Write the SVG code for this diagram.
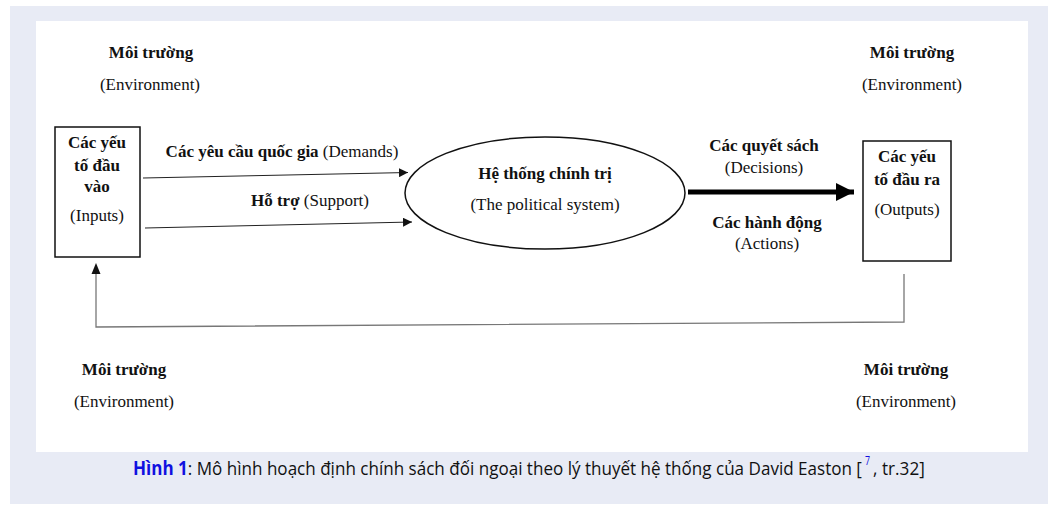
<svg xmlns="http://www.w3.org/2000/svg" width="1058" height="512" viewBox="0 0 1058 512">
<style>
.t{font-family:"Liberation Serif","Times New Roman",serif;font-size:17px;fill:#111;text-anchor:middle}
.b{font-weight:bold}
.box{fill:#fff;stroke:#111;stroke-width:1.5}
.ln{fill:none;stroke:#222;stroke-width:1}
.cap{font-family:"Open Sans","Noto Sans",sans-serif;font-size:19px;fill:#111}
.sup{font-family:"Open Sans","Noto Sans",sans-serif;font-size:13px;fill:#1010e0}
</style>
<defs>
<marker id="ah" viewBox="0 0 10 10" refX="10" refY="5" markerWidth="9" markerHeight="9" markerUnits="userSpaceOnUse" orient="auto"><path d="M0,0 L10,5 L0,10 z" fill="#111"/></marker>
<marker id="ahb" viewBox="0 0 10 10" refX="10" refY="5" markerWidth="3.6" markerHeight="3.6" orient="auto"><path d="M0,0 L10,5 L0,10 z" fill="#000"/></marker>
</defs>
<rect x="10" y="6" width="1038" height="498" fill="#e8ebf5"/>
<rect x="36" y="21" width="992" height="431" fill="#fff"/>

<g id="env-tl"><text class="t b" x="151" y="58">Môi trường</text><text class="t" x="150" y="90">(Environment)</text></g>
<g id="env-tr"><text class="t b" x="912" y="58">Môi trường</text><text class="t" x="912" y="90">(Environment)</text></g>
<g id="env-bl"><text class="t b" x="124" y="375">Môi trường</text><text class="t" x="124" y="407">(Environment)</text></g>
<g id="env-br"><text class="t b" x="906" y="375">Môi trường</text><text class="t" x="906" y="407">(Environment)</text></g>

<g id="inputs">
<rect class="box" x="55" y="127" width="85" height="130"/>
<text class="t b" x="97" y="148">Các yếu</text>
<text class="t b" x="97" y="171">tố đầu</text>
<text class="t b" x="97" y="192">vào</text>
<text class="t" x="97" y="221">(Inputs)</text>
</g>

<g id="system">
<ellipse cx="545" cy="193" rx="140" ry="56" fill="#fff" stroke="#111" stroke-width="1.5"/>
<text class="t b" x="545" y="179">Hệ thống chính trị</text>
<text class="t" x="545" y="210">(The political system)</text>
</g>

<g id="outputs">
<rect class="box" x="863" y="141" width="88" height="120"/>
<text class="t b" x="907" y="162">Các yếu</text>
<text class="t b" x="907" y="185">tố đầu ra</text>
<text class="t" x="907" y="215">(Outputs)</text>
</g>

<g id="connectors">
<line class="ln" x1="143" y1="178" x2="408" y2="172.5" marker-end="url(#ah)"/>
<line class="ln" x1="145" y1="228" x2="412" y2="222" marker-end="url(#ah)"/>
<line x1="688" y1="192" x2="854" y2="192" stroke="#000" stroke-width="5" marker-end="url(#ahb)"/>
<polyline points="904,274 904,322 96,327 96,270" fill="none" stroke="#777" stroke-width="1.3"/>
<path d="M91.5,274 L96,263 L100.5,274 z" fill="#111"/>
<text class="t" x="282" y="157"><tspan class="b">Các yêu cầu quốc gia</tspan> (Demands)</text>
<text class="t" x="310" y="206"><tspan class="b">Hỗ trợ</tspan> (Support)</text>
<text class="t b" x="764" y="151">Các quyết sách</text>
<text class="t" x="764" y="173">(Decisions)</text>
<text class="t b" x="767" y="228">Các hành động</text>
<text class="t" x="767" y="249">(Actions)</text>
</g>

<g id="caption" transform="scale(0.68,1)">
<text class="cap" x="195.6" y="475" textLength="1072" lengthAdjust="spacingAndGlyphs"><tspan fill="#1010e0" font-weight="bold">Hình 1</tspan>: Mô hình hoạch định chính sách đối ngoại theo lý thuyết hệ thống của David Easton [</text>
<text class="sup" x="1272" y="465">7</text>
<text class="cap" x="1284" y="475" textLength="76" lengthAdjust="spacingAndGlyphs">, tr.32]</text>
</g>
</svg>
